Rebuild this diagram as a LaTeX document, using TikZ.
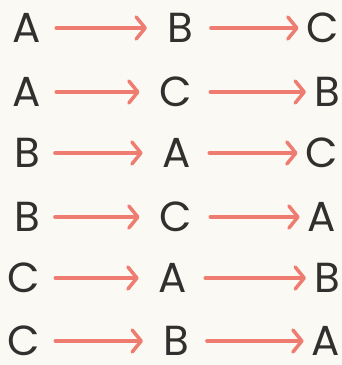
\documentclass[tikz,border=0pt]{standalone}
\usepackage{fontspec}
\setmainfont{Poppins}
\usetikzlibrary{arrows.meta}
\definecolor{ink}{RGB}{50,48,46}
\definecolor{salmon}{RGB}{238,124,112}
\definecolor{paper}{RGB}{251,249,244}
\begin{document}
\begin{tikzpicture}[x=1pt,y=-1pt,
  letter/.style={inner sep=0pt,text=ink,text height=29pt,text depth=0pt,
    font=\fontsize{42}{42}\selectfont},
  firstarrow/.style={draw=salmon,line width=3.8pt,line cap=round,
    -{Straight Barb[length=9pt,width=22pt,line width=3.5pt,round]},
    shorten <=15pt,shorten >=20pt},
  secondarrow/.style={draw=salmon,line width=3.8pt,line cap=round,
    -{Straight Barb[length=9pt,width=22pt,line width=3.5pt,round]},
    shorten <=18pt,shorten >=8pt}]
\fill[paper] (0,0) rectangle (342,365);
\useasboundingbox (0,0) rectangle (342,365);
% row 1
\node[letter] (a1) at (27,28) {A};
\node[letter] (b1) at (180,28) {B};
\node[letter] (c1) at (323,28) {C};
% row 2
\node[letter] (a2) at (27,92) {A};
\node[letter] (b2) at (176,92) {C};
\node[letter] (c2) at (327,92) {B};
% row 3
\node[letter] (a3) at (27,153) {B};
\node[letter] (b3) at (177,153) {A};
\node[letter] (c3) at (322,153) {C};
% row 4
\node[letter] (a4) at (27,217) {B};
\node[letter] (b4) at (176,217) {C};
\node[letter] (c4) at (322,217) {A};
% row 5
\node[letter] (a5) at (24,278) {C};
\node[letter] (b5) at (173,278) {A};
\node[letter] (c5) at (327,278) {B};
% row 6
\node[letter] (a6) at (24,341) {C};
\node[letter] (b6) at (176,341) {B};
\node[letter] (c6) at (326,341) {A};
\foreach \i in {1,...,6}{
  \draw[firstarrow] (a\i.east) -- (b\i.west);
  \draw[secondarrow] (b\i.east) -- (c\i.west);
}
\end{tikzpicture}
\end{document}
